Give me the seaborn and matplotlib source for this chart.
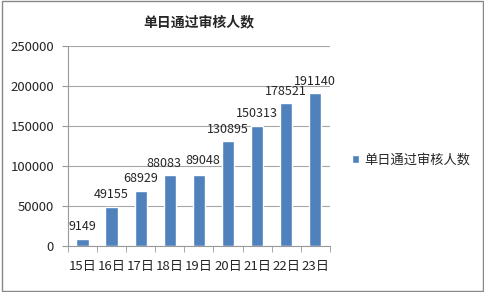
import matplotlib
matplotlib.use("Agg")
import matplotlib.pyplot as plt
import seaborn as sns
import pandas as pd
import numpy as np

categories = ["15日", "16日", "17日", "18日", "19日", "20日", "21日", "22日", "23日"]
values = [9149, 49155, 68929, 88083, 89048, 130895, 150313, 178521, 191140]
series_name = "单日通过审核人数"
yticks = [0, 50000, 100000, 150000, 200000, 250000]

sns.set_style("white")
plt.rcParams['font.family'] = ['Noto Sans CJK SC', 'DejaVu Sans']

df = pd.DataFrame({"day": categories, "count": values, "series": series_name})

fig = plt.figure(figsize=(4.85, 2.92), dpi=100)
ax = fig.add_axes([0.140, 0.158, 0.540, 0.684])

sns.barplot(data=df, x="day", y="count", hue="series", palette=["#4F81BD"],
            width=0.42, ax=ax, saturation=1, legend=True)

fs = 9.5
ax.set_ylim(0, 250000)
ax.set_yticks(yticks)
ax.set_yticklabels([str(v) for v in yticks], fontsize=fs)
ax.set_xlim(-0.5, len(categories) - 0.5)
ax.set_xlabel("")
ax.set_ylabel("")
ax.tick_params(axis='x', labelsize=fs, length=0, pad=10)
ax.tick_params(axis='y', length=4, color="#999999", pad=6, left=True)
ax.set_xticks(np.arange(-0.5, len(categories)), minor=True)
ax.tick_params(axis='x', which='minor', length=4, color="#999999", bottom=True)

ax.grid(axis='y', color="#a6a6a6", linewidth=0.8)
ax.set_axisbelow(True)
for s in ["top", "right"]:
    ax.spines[s].set_visible(False)
for s in ["left", "bottom"]:
    ax.spines[s].set_color("#999999")
    ax.spines[s].set_linewidth(0.8)

# small label nudges (in points) to keep crowded neighbours apart, as in the reference
nudges = {3: (-4, 0), 4: (3, 1.5)}
for i, v in enumerate(values):
    dx, dy = nudges.get(i, (0, 0))
    ax.annotate(str(v), xy=(i, v), xytext=(dx, 4 + dy), textcoords="offset points",
                ha='center', va='bottom', fontsize=9)

ax.set_title(series_name, fontsize=10, fontweight='bold', pad=14)

leg = ax.legend(loc='center left', bbox_to_anchor=(1.04, 0.43), frameon=False,
                fontsize=fs, handlelength=0.55, handleheight=0.55, handletextpad=0.4)

fig.patches.append(plt.Rectangle((0.004, 0.004), 0.992, 0.992, transform=fig.transFigure,
                                 fill=False, edgecolor="#888888", linewidth=1))

fig.savefig("out.png", dpi=100)
